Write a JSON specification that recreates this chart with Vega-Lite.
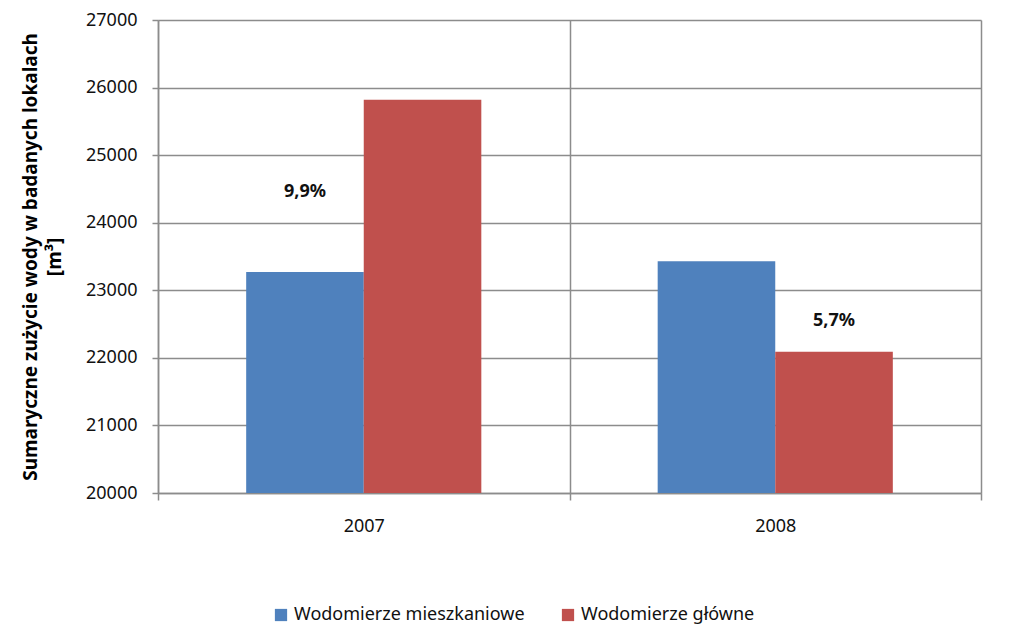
{
  "$schema": "https://vega.github.io/schema/vega-lite/v6.json",
  "width": 823,
  "height": 473,
  "autosize": {"type": "none"},
  "padding": {"left": 158, "top": 20, "right": 30, "bottom": 143},
  "background": "white",
  "config": {
    "font": "Noto Sans",
    "view": {"stroke": null},
    "axis": {"labelColor": "#111111", "titleColor": "#000000"}
  },
  "datasets": {
    "bars": [
      {"year": "2007", "series": "Wodomierze mieszkaniowe", "value": 23270},
      {"year": "2007", "series": "Wodomierze główne", "value": 25820},
      {"year": "2008", "series": "Wodomierze mieszkaniowe", "value": 23430},
      {"year": "2008", "series": "Wodomierze główne", "value": 22090}
    ],
    "notes": [
      {"year": "2007", "series": "Wodomierze mieszkaniowe", "pos": 24455, "label": "9,9%"},
      {"year": "2008", "series": "Wodomierze główne", "pos": 22545, "label": "5,7%"}
    ]
  },
  "layer": [
    {
      "data": {"name": "bars"},
      "mark": {"type": "bar"},
      "encoding": {
        "x": {
          "field": "year",
          "type": "ordinal",
          "scale": {"paddingInner": 0, "paddingOuter": 0},
          "axis": {
            "title": null,
            "labelAngle": 0,
            "labelFontSize": 18,
            "labelPadding": 17,
            "tickBand": "extent",
            "grid": true,
            "gridColor": "#8c8c8c",
            "gridWidth": 1.5,
            "gridOpacity": 1,
            "domainColor": "#8c8c8c",
            "domainWidth": 1.5,
            "tickColor": "#8c8c8c",
            "tickWidth": 1.5,
            "tickSize": 7
          }
        },
        "xOffset": {
          "field": "series",
          "type": "nominal",
          "scale": {"domain": ["Wodomierze mieszkaniowe", "Wodomierze główne"], "paddingInner": 0, "paddingOuter": 0.75}
        },
        "y": {
          "field": "value",
          "type": "quantitative",
          "scale": {"domain": [20000, 27000], "nice": false, "zero": false},
          "axis": {
            "title": ["Sumaryczne zużycie wody w badanych lokalach", "[m³]"],
            "titleFontSize": 19,
            "titleFontWeight": "bold",
            "titlePadding": 21,
            "titleLineHeight": 24,
            "values": [20000, 21000, 22000, 23000, 24000, 25000, 26000, 27000],
            "format": "d",
            "labelFontSize": 18,
            "labelPadding": 15,
            "grid": true,
            "gridColor": "#8c8c8c",
            "gridWidth": 1.5,
            "domainColor": "#8c8c8c",
            "domainWidth": 1.5,
            "tickColor": "#8c8c8c",
            "tickWidth": 1.5,
            "tickSize": 6
          }
        },
        "y2": {"datum": 20000},
        "color": {
          "field": "series",
          "type": "nominal",
          "scale": {"domain": ["Wodomierze mieszkaniowe", "Wodomierze główne"], "range": ["#4F81BD", "#C0504D"]},
          "legend": {
            "title": null,
            "orient": "none",
            "direction": "horizontal",
            "legendX": 114,
            "legendY": 586,
            "symbolType": "square",
            "symbolSize": 150,
            "symbolStrokeWidth": 0,
            "labelFontSize": 18,
            "labelLimit": 400,
            "labelColor": "#111111",
            "columnPadding": 34,
            "labelOffset": 4
          }
        }
      }
    },
    {
      "data": {"name": "notes"},
      "mark": {"type": "text", "fontSize": 18, "fontWeight": "bold", "color": "#111111", "baseline": "middle", "align": "center"},
      "encoding": {
        "x": {"field": "year", "type": "ordinal"},
        "xOffset": {"field": "series", "type": "nominal"},
        "y": {"field": "pos", "type": "quantitative"},
        "text": {"field": "label"}
      }
    }
  ]
}
